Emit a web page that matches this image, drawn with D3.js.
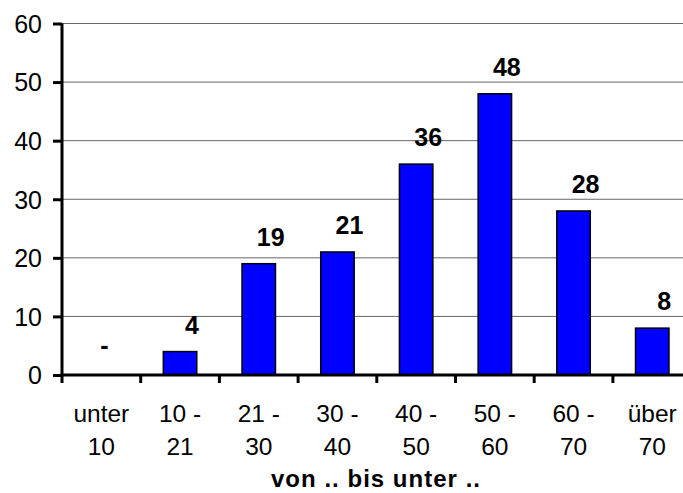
<!DOCTYPE html>
<html>
  <head>
    <style>
      body { margin: 0; background: #fff; }
      svg { display: block; font-family: "Liberation Sans", Arial, sans-serif; }
    </style>
  </head>
  <body>
    <div id="my_dataviz"></div>
  </body>
</html>

<script src="https://d3js.org/d3.v7.min.js"></script>

<script>
    // data
    var categories = ["unter 10", "10 - 21", "21 - 30", "30 - 40", "40 - 50", "50 - 60", "60 - 70", "über 70"];
    var catLines = [["unter", "10"], ["10 -", "21"], ["21 -", "30"], ["30 -", "40"], ["40 -", "50"], ["50 -", "60"], ["60 -", "70"], ["über", "70"]];
    var values = [0, 4, 19, 21, 36, 48, 28, 8];
    var yTicks = [0, 10, 20, 30, 40, 50, 60];
    var xTitle = "von .. bis unter ..";

    var margin = {left: 62, top: 23.5, bottom: 118},
        totalW = 683, totalH = 493,
        width = 8 * 78.7,
        height = totalH - margin.top - margin.bottom;

    var svg = d3.select("#my_dataviz")
      .append("svg")
        .attr("width", totalW)
        .attr("height", totalH)
      .append("g")
        .attr("transform", "translate(" + margin.left + "," + margin.top + ")");

    var x = d3.scaleBand()
      .domain(categories)
      .range([0, width])
      .paddingInner(0.575)
      .paddingOuter(0.2875);

    var y = d3.scaleLinear()
      .domain([0, 60])
      .range([height, 0]);

    // gridlines
    svg.selectAll(".grid")
      .data(yTicks.filter(function(d) { return d > 0; }))
      .enter()
      .append("line")
        .attr("x1", 0)
        .attr("x2", width)
        .attr("y1", function(d) { return y(d); })
        .attr("y2", function(d) { return y(d); })
        .attr("stroke", "#666")
        .attr("stroke-width", 1);

    // bars
    svg.selectAll("myRect")
      .data(values)
      .enter()
      .append("rect")
        .attr("x", function(d, i) { return x(categories[i]); })
        .attr("y", function(d) { return y(d); })
        .attr("width", x.bandwidth())
        .attr("height", function(d) { return height - y(d); })
        .attr("fill", "#0000ff")
        .attr("stroke", "#000")
        .attr("stroke-width", 1.5)
        .style("display", function(d) { return d > 0 ? null : "none"; });

    // value labels
    svg.selectAll("myLabel")
      .data(values)
      .enter()
      .append("text")
        .attr("x", function(d, i) { return x(categories[i]) + x.bandwidth() / 2 + (d > 0 ? 12 : 3); })
        .attr("y", function(d) { return y(d) - (d > 0 ? 18 : 21); })
        .attr("text-anchor", "middle")
        .style("font-size", "25px")
        .style("font-weight", "bold")
        .text(function(d) { return d > 0 ? d : "-"; });

    // Y axis
    var yAxis = svg.append("g")
      .call(d3.axisLeft(y).tickValues(yTicks).tickSize(9).tickPadding(11).tickFormat(d3.format("d")));
    yAxis.select(".domain").attr("stroke-width", 3).attr("d", "M0," + (height + 1.5) + "V0");
    yAxis.selectAll(".tick line").attr("stroke-width", 3);
    yAxis.selectAll("text").style("font-size", "25px").attr("fill", "#000").attr("dy", "0.35em");

    // X axis (ticks between categories)
    var bandStep = x.step();
    var xAxis = svg.append("g")
      .attr("transform", "translate(0," + height + ")");
    xAxis.append("line")
      .attr("x1", -1.5).attr("x2", width)
      .attr("y1", 0).attr("y2", 0)
      .attr("stroke", "#000").attr("stroke-width", 3);
    xAxis.selectAll(".xt")
      .data(d3.range(categories.length))
      .enter()
      .append("line")
        .attr("x1", function(i) { return i * bandStep; })
        .attr("x2", function(i) { return i * bandStep; })
        .attr("y1", 0).attr("y2", 8)
        .attr("stroke", "#000").attr("stroke-width", 3);

    var xl = xAxis.selectAll(".xl")
      .data(catLines)
      .enter()
      .append("text")
        .attr("text-anchor", "middle")
        .attr("transform", function(d, i) { return "translate(" + (x(categories[i]) + x.bandwidth() / 2) + ",0)"; })
        .style("font-size", "24.5px");
    xl.append("tspan").attr("x", 0).attr("y", 47).text(function(d) { return d[0]; });
    xl.append("tspan").attr("x", 0).attr("y", 80).text(function(d) { return d[1]; });

    svg.append("text")
      .attr("x", 271 - margin.left)
      .attr("y", 487 - margin.top)
      .attr("textLength", 209)
      .attr("lengthAdjust", "spacing")
      .style("font-size", "24px")
      .style("font-weight", "bold")
      .text(xTitle);
</script>
